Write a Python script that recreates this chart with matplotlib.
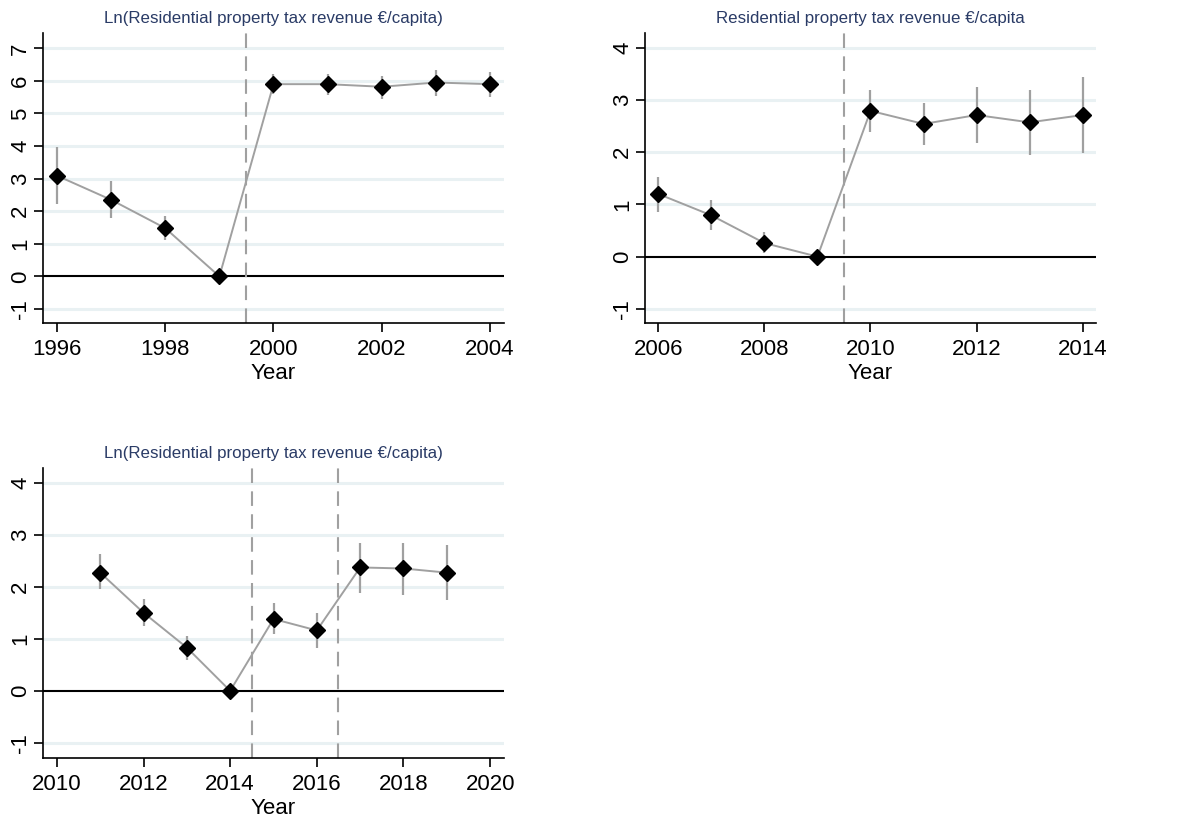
import matplotlib
matplotlib.use("Agg")
import matplotlib.pyplot as plt
import numpy as np

plt.rcParams['font.family'] = ['Liberation Sans', 'DejaVu Sans']

# Panel A
years_a = [1996, 1997, 1998, 1999, 2000, 2001, 2002, 2003, 2004]
coef_a = [3.09, 2.35, 1.48, 0.0, 5.90, 5.90, 5.82, 5.95, 5.90]
lo_a = [2.21, 1.78, 1.13, 0.0, 5.60, 5.58, 5.45, 5.55, 5.52]
hi_a = [3.98, 2.92, 1.85, 0.0, 6.21, 6.22, 6.15, 6.33, 6.28]
title_a = "Ln(Residential property tax revenue €/capita)"

# Panel B
years_b = [2006, 2007, 2008, 2009, 2010, 2011, 2012, 2013, 2014]
coef_b = [1.20, 0.79, 0.26, 0.0, 2.79, 2.54, 2.71, 2.57, 2.71]
lo_b = [0.86, 0.51, 0.07, 0.0, 2.39, 2.14, 2.17, 1.95, 1.98]
hi_b = [1.52, 1.09, 0.48, 0.0, 3.19, 2.94, 3.24, 3.19, 3.43]
title_b = "Residential property tax revenue €/capita"

# Panel C
years_c = [2011, 2012, 2013, 2014, 2015, 2016, 2017, 2018, 2019]
coef_c = [2.27, 1.50, 0.83, 0.0, 1.38, 1.16, 2.37, 2.35, 2.27]
lo_c = [1.95, 1.24, 0.60, 0.0, 1.10, 0.83, 1.88, 1.84, 1.75]
hi_c = [2.62, 1.77, 1.05, 0.0, 1.68, 1.50, 2.84, 2.83, 2.80]
title_c = "Ln(Residential property tax revenue €/capita)"

W, H = 1182, 817
fig = plt.figure(figsize=(W / 100, H / 100), dpi=100)

def px_axes(l, r, t, b):
    return fig.add_axes([l / W, 1 - b / H, (r - l) / W, (b - t) / H])

GRAY = '#a0a0a0'
GRID = '#e9f1f3'
NAVY = '#2a3b66'
FS = 16

def panel(ax, years, coef, lo, hi, title, xlim, ylim, yticks, xticks, vlines):
    ax.set_xlim(*xlim)
    ax.set_ylim(*ylim)
    for yv in yticks:
        if yv != 0:
            ax.axhline(yv, color=GRID, lw=2.2, zorder=0)
    ax.axhline(0, color='black', lw=1.5, zorder=1)
    for v in vlines:
        ax.axvline(v, color=GRAY, lw=1.5, ls=(0, (7, 4)), zorder=1)
    ax.vlines(years, lo, hi, color=GRAY, lw=1.6, zorder=2)
    ax.plot(years, coef, color=GRAY, lw=1.4, zorder=3)
    ax.plot(years, coef, ls='none', marker='D', ms=8.2, color='black', zorder=4)
    for s in ['top', 'right']:
        ax.spines[s].set_visible(False)
    for s in ['left', 'bottom']:
        ax.spines[s].set_linewidth(1.2)
    ax.set_yticks(yticks)
    ax.set_yticklabels([str(v) for v in yticks], rotation=90, va='center', fontsize=FS)
    ax.set_xticks(xticks)
    ax.set_xticklabels([str(v) for v in xticks], fontsize=FS)
    ax.tick_params(axis='both', length=6.5, width=1.2)
    ax.tick_params(axis='y', pad=2)
    ax.tick_params(axis='x', pad=5)
    ax.set_xlabel('Year', fontsize=FS, labelpad=2)
    ax.set_title(title, fontsize=12.2, color=NAVY, pad=7)

ax1 = px_axes(43, 504, 33, 323)
panel(ax1, years_a, coef_a, lo_a, hi_a, title_a, (1995.74, 2004.26), (-1.43, 7.47),
      list(range(-1, 8)), [1996, 1998, 2000, 2002, 2004], [1999.5])

ax2 = px_axes(645, 1096, 33, 323)
panel(ax2, years_b, coef_b, lo_b, hi_b, title_b, (2005.75, 2014.25), (-1.27, 4.28),
      list(range(-1, 5)), [2006, 2008, 2010, 2012, 2014], [2009.5])

ax3 = px_axes(43, 504, 468, 758)
panel(ax3, years_c, coef_c, lo_c, hi_c, title_c, (2009.68, 2020.32), (-1.29, 4.28),
      list(range(-1, 5)), [2010, 2012, 2014, 2016, 2018, 2020], [2014.5, 2016.5])

fig.savefig('out.png', dpi=100, facecolor='white')
